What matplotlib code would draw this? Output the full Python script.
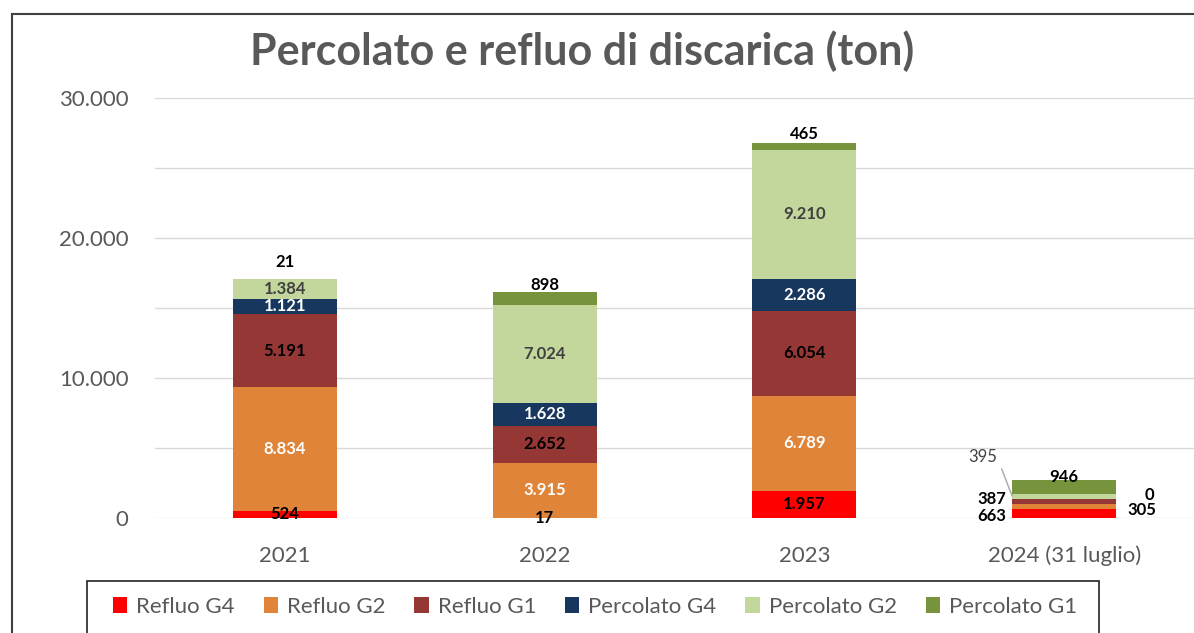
import matplotlib
matplotlib.use("Agg")
import matplotlib.pyplot as plt
from matplotlib.patches import Rectangle, Patch
from matplotlib.lines import Line2D
import numpy as np

# ---- data ----
categories = ["2021", "2022", "2023", "2024 (31 luglio)"]
series_names = ["Refluo G4", "Refluo G2", "Refluo G1", "Percolato G4", "Percolato G2", "Percolato G1"]
refluo_g4 = [524, 17, 1957, 663]
refluo_g2 = [8834, 3915, 6789, 305]
refluo_g1 = [5191, 2652, 6054, 387]
percolato_g4 = [1121, 1628, 2286, 0]
percolato_g2 = [1384, 7024, 9210, 395]
percolato_g1 = [21, 898, 465, 946]
y_ticks = [0, 10000, 20000, 30000]
y_tick_labels = ["0", "10.000", "20.000", "30.000"]

colors = ["#FF0000", "#DF8438", "#953735", "#17375E", "#C3D69B", "#77933C"]
label_colors = ["#000000", "#FFFFFF", "#000000", "#FFFFFF", "#404040", "#000000"]

plt.rcParams['font.family'] = ["Lato", "DejaVu Sans"]

def fmt(v):
    return f"{v:,}".replace(",", ".")

W, H = 1194, 633
fig = plt.figure(figsize=(W / 100, H / 100), dpi=100)
ax = fig.add_axes([155 / W, 1 - 518 / H, 1 - 155 / W, (518 - 98) / H])

data = [refluo_g4, refluo_g2, refluo_g1, percolato_g4, percolato_g2, percolato_g1]
x = np.arange(len(categories))
width = 0.4
bottom = np.zeros(len(categories))
bars = []
for vals, c, name in zip(data, colors, series_names):
    ax.bar(x, vals, width, bottom=bottom, color=c, label=name, zorder=3)
    bars.append((np.array(vals, dtype=float), bottom.copy()))
    bottom = bottom + np.array(vals)

ax.set_xlim(-0.5, 3.5)
ax.set_ylim(0, 30000)
ax.set_yticks(y_ticks)
ax.set_yticklabels(y_tick_labels)
ax.set_yticks(np.arange(5000, 30000, 10000), minor=True)
ax.set_xticks(x)
ax.set_xticklabels(categories)
ax.tick_params(axis='y', length=0, pad=19, labelsize=16, labelcolor="#595959", which='both')
ax.tick_params(axis='x', length=0, pad=20, labelsize=16, labelcolor="#595959")
ax.grid(axis='y', which='both', color="#D9D9D9", lw=1, zorder=0)
for s in ax.spines.values():
    s.set_visible(False)

fs = 12
# labels for first three categories
for si, (vals, bot) in enumerate(bars):
    for ci in range(3):
        v = vals[ci]
        if si == 5:
            offs = {0: 12, 1: 5, 2: 7}[ci]
            ax.annotate(fmt(int(v)), (x[ci], bot[ci] + v), xytext=(0, offs), textcoords='offset points',
                        ha='center', va='center', fontsize=fs, fontweight='bold', color="#000000", zorder=5)
        else:
            ax.text(x[ci], bot[ci] + v / 2, fmt(int(v)), ha='center', va='center', fontsize=fs,
                    fontweight='bold', color=label_colors[si], zorder=5)

# 2024 labels
ci = 3
def mid(si):
    vals, bot = bars[si]
    return bot[ci] + vals[ci] / 2

def side_label(si, value, dx, dy, ha):
    edge = x[ci] - width / 2 if ha == 'right' else x[ci] + width / 2
    ax.annotate(fmt(value), (edge, mid(si)), xytext=(dx, dy), textcoords='offset points',
                ha=ha, va='center', fontsize=fs, fontweight='bold', color="#000000", zorder=5)

side_label(0, refluo_g4[ci], -4, -2, 'right')
side_label(2, refluo_g1[ci], -4, 2, 'right')
side_label(1, refluo_g2[ci], 8, -2.5, 'left')
ax.annotate(fmt(percolato_g4[ci]), (x[ci] + width / 2, mid(3)), xytext=(24, 3), textcoords='offset points',
            ha='center', va='center', fontsize=fs, fontweight='bold', color="#000000", zorder=5)
ax.annotate(fmt(percolato_g1[ci]), (x[ci], bars[5][1][ci] + percolato_g1[ci]), xytext=(0, 2),
            textcoords='offset points', ha='center', va='center', fontsize=fs, fontweight='bold', zorder=5)
# 395 callout
ax.annotate(fmt(percolato_g2[ci]), xy=(x[ci] - width / 2, mid(4)), xytext=(-21, 28), textcoords='offset points',
            ha='center', va='center', fontsize=12, color="#404040", zorder=5,
            arrowprops=dict(arrowstyle='-', color="#A6A6A6", lw=1,
                            connectionstyle="angle,angleA=0,angleB=111,rad=0", shrinkA=3, shrinkB=0))

# title
fig.text(582 / W, 1 - 51 / H, "Percolato e refluo di discarica (ton)", ha='center', va='center',
         fontsize=31, fontweight='bold', color="#595959")

# outer frame (partially visible)
fig.add_artist(Line2D([12 / W, 12 / W], [0, 1 - 14 / H], transform=fig.transFigure, color="#404040", lw=1.5))
fig.add_artist(Line2D([12 / W, 1], [1 - 14 / H, 1 - 14 / H], transform=fig.transFigure, color="#404040", lw=1.5))

# legend box
fig.add_artist(Rectangle((87 / W, -0.05), (1099 - 87) / W, (1 - 581 / H) + 0.05, transform=fig.transFigure,
                         fill=False, edgecolor="#222222", lw=1.2))
handles = [Patch(facecolor=c, edgecolor='none') for c in colors]
leg = fig.legend(handles, series_names, loc='center', bbox_to_anchor=(595 / W, 1 - 607 / H), ncol=6,
                 frameon=False, fontsize=16, handlelength=0.65, handleheight=0.75, handletextpad=0.4,
                 columnspacing=1.3)
for t in leg.get_texts():
    t.set_color("#595959")

fig.savefig("out.png", dpi=100)
